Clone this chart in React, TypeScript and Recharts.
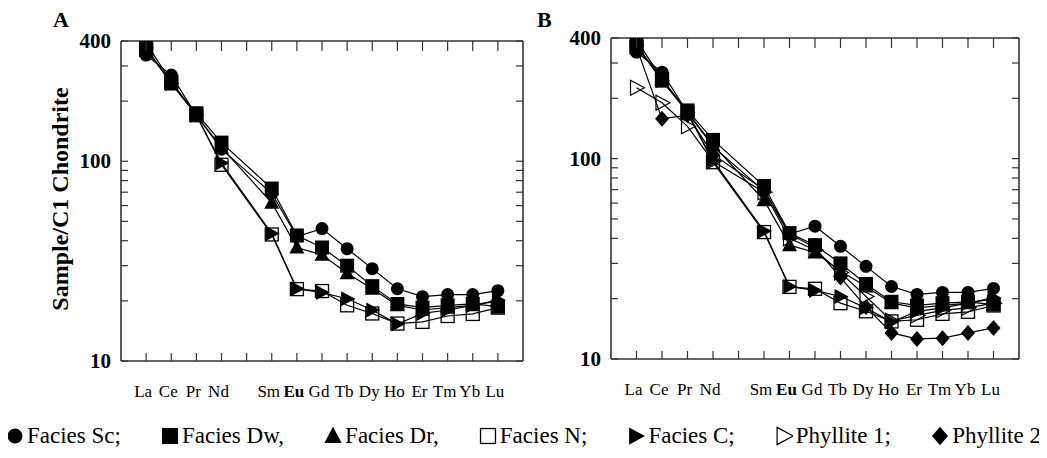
import React from 'react';
import { LineChart, Line, XAxis, YAxis } from 'recharts';

// REE order, Pm (position 5) has no data
const elements = ['La', 'Ce', 'Pr', 'Nd', 'Sm', 'Eu', 'Gd', 'Tb', 'Dy', 'Ho', 'Er', 'Tm', 'Yb', 'Lu'];
const positions = [1, 2, 3, 4, 6, 7, 8, 9, 10, 11, 12, 13, 14, 15];
const xTickPositions = [1, 2, 3, 4, 5, 6, 7, 8, 9, 10, 11, 12, 13, 14, 15];
const xTickLabels = ['La', 'Ce', 'Pr', 'Nd', '', 'Sm', 'Eu', 'Gd', 'Tb', 'Dy', 'Ho', 'Er', 'Tm', 'Yb', 'Lu'];
const yTicks = [10, 20, 30, 40, 50, 60, 70, 80, 90, 100, 200, 300, 400];
const yLabelled = [10, 100, 400];

const faciesSc = [340, 270, 170, 115, 69, 42, 46, 36.5, 29, 23, 21, 21.5, 21.5, 22.5];
const faciesDw = [370, 245, 174, 124, 73, 42.5, 37, 30, 23.7, 19.3, 18.5, 19, 19.3, 18.7];
const faciesDr = [390, 250, 170, 117, 62, 37, 34, 27.5, 23, 19, 18, 18.5, 19, 20];
const faciesN = [360, 250, 170, 96, 43, 22.9, 22.4, 19, 17.3, 15.4, 15.7, 16.8, 17.2, 18.5];
const faciesC = [370, 245, 170, 98, 43.5, 23, 22, 20.5, 18, 15.3, 17.3, 18, 19, 20.2];
const phyllite1 = [226, 190, 145, 97, 68, 40, 35, 27, 20.5, 15.5, 16.5, 17.5, 18, 19];
const phyllite2 = [360, 158, 165, 105, 70, 42, 36, 25.5, 18.2, 13.5, 12.6, 12.7, 13.5, 14.3];

const seriesA = [
  { key: 'sc', name: 'Facies Sc;', shape: 'circle', values: faciesSc },
  { key: 'dw', name: 'Facies Dw,', shape: 'square', values: faciesDw },
  { key: 'dr', name: 'Facies Dr,', shape: 'triangle', values: faciesDr },
  { key: 'n', name: 'Facies N;', shape: 'openSquare', values: faciesN },
  { key: 'c', name: 'Facies C;', shape: 'right', values: faciesC },
];
const seriesB = [
  ...seriesA,
  { key: 'p1', name: 'Phyllite 1;', shape: 'openRight', values: phyllite1 },
  { key: 'p2', name: 'Phyllite 2', shape: 'diamond', values: phyllite2 },
];

const rows = elements.map((el, i) => {
  const row: Record<string, any> = { el, pos: positions[i] };
  seriesB.forEach((s) => { row[s.key] = s.values[i]; });
  return row;
});

const FONT = '"Liberation Serif", "Times New Roman", serif';
const FRAME = '#333';

const Marker = ({ shape, cx, cy, s = 1 }: { shape: string; cx: number; cy: number; s?: number }) => {
  if (cx == null || cy == null) return null;
  switch (shape) {
    case 'circle':
      return <circle cx={cx} cy={cy} r={6.5 * s} fill="#000" />;
    case 'square':
      return <rect x={cx - 7 * s} y={cy - 7 * s} width={14 * s} height={14 * s} fill="#000" />;
    case 'openSquare':
      return <rect x={cx - 6.5 * s} y={cy - 6.5 * s} width={13 * s} height={13 * s} fill="none" stroke="#000" strokeWidth={1.3} />;
    case 'triangle':
      return <polygon points={`${cx},${cy - 8 * s} ${cx + 7.5 * s},${cy + 6 * s} ${cx - 7.5 * s},${cy + 6 * s}`} fill="#000" />;
    case 'right':
      return <polygon points={`${cx - 6 * s},${cy - 7.5 * s} ${cx + 8 * s},${cy} ${cx - 6 * s},${cy + 7.5 * s}`} fill="#000" />;
    case 'openRight':
      return <polygon points={`${cx - 6 * s},${cy - 7.5 * s} ${cx + 8 * s},${cy} ${cx - 6 * s},${cy + 7.5 * s}`} fill="none" stroke="#000" strokeWidth={1.2} />;
    case 'diamond':
      return <polygon points={`${cx},${cy - 8 * s} ${cx + 7 * s},${cy} ${cx},${cy + 8 * s} ${cx - 7 * s},${cy}`} fill="#000" />;
    default:
      return null;
  }
};

const BottomTick = (props: any) => {
  const { x, y, index } = props;
  const label = xTickLabels[index] ?? '';
  return (
    <g>
      <line x1={x} x2={x} y1={y} y2={y - 8} stroke={FRAME} strokeWidth={1.2} />
      <text x={x - 3} y={y + 36} textAnchor="middle" fontFamily={FONT} fontSize={17}
        fontWeight={label === 'Eu' ? 'bold' : 'normal'} fill="#000">{label}</text>
    </g>
  );
};
const TopTick = (props: any) => (
  <line x1={props.x} x2={props.x} y1={props.y} y2={props.y + 10} stroke={FRAME} strokeWidth={1.2} />
);
const LeftTick = (props: any) => {
  const { x, y, payload } = props;
  return (
    <g>
      <line x1={x} x2={x + 7} y1={y} y2={y} stroke={FRAME} strokeWidth={1.2} />
      {yLabelled.includes(payload.value) && (
        <text x={x - 10} y={y + 7} textAnchor="end" fontFamily={FONT} fontSize={21} fontWeight="bold" fill="#000">
          {payload.value}
        </text>
      )}
    </g>
  );
};
const RightTick = (props: any) => (
  <line x1={props.x} x2={props.x - 7} y1={props.y} y2={props.y} stroke={FRAME} strokeWidth={1.2} />
);

const axisLine = { stroke: FRAME, strokeWidth: 1.6 };

const Panel = ({ series, width, height, margin }: any) => (
  <LineChart width={width} height={height} data={rows} margin={margin}>
    <XAxis xAxisId="b" dataKey="pos" type="number" domain={[0, 16]} ticks={xTickPositions} interval={0}
      height={1} tickSize={0} tickMargin={0} tickLine={false} tick={BottomTick} axisLine={axisLine} />
    <XAxis xAxisId="t" orientation="top" dataKey="pos" type="number" domain={[0, 16]} ticks={xTickPositions} interval={0}
      height={1} tickSize={0} tickMargin={0} tickLine={false} tick={TopTick} axisLine={axisLine} />
    <YAxis yAxisId="l" type="number" scale="log" domain={[10, 400]} ticks={yTicks} interval={0} allowDataOverflow
      width={1} tickSize={0} tickMargin={0} tickLine={false} tick={LeftTick} axisLine={axisLine} />
    <YAxis yAxisId="r" orientation="right" type="number" scale="log" domain={[10, 400]} ticks={yTicks} interval={0}
      allowDataOverflow width={1} tickSize={0} tickMargin={0} tickLine={false} tick={RightTick} axisLine={axisLine} />
    {series.map((s: any) => (
      <Line key={s.key} xAxisId="b" yAxisId="l" dataKey={s.key} name={s.name} stroke="#000" strokeWidth={1.2}
        isAnimationActive={false}
        dot={(p: any) => <Marker key={`${s.key}-${p.index}`} shape={s.shape} cx={p.cx} cy={p.cy} />}
        activeDot={false} />
    ))}
  </LineChart>
);

export default function App() {
  return (
    <div style={{ position: 'relative', width: 1047, height: 458, margin: -8, background: '#fff', overflow: 'hidden' }}>
      <div style={{ position: 'absolute', left: 0, top: 0 }}>
        <Panel series={seriesA} width={530} height={410} margin={{ top: 40, right: 6, bottom: 48, left: 120 }} />
      </div>
      <div style={{ position: 'absolute', left: 520, top: 0 }}>
        <Panel series={seriesB} width={527} height={410} margin={{ top: 37, right: 27, bottom: 50, left: 90 }} />
      </div>
      <svg width={1047} height={410} style={{ position: 'absolute', left: 0, top: 0, pointerEvents: 'none' }}>
        <text x={53} y={27} fontFamily={FONT} fontSize={22} fontWeight="bold" fill="#000">A</text>
        <text x={537} y={27} fontFamily={FONT} fontSize={22} fontWeight="bold" fill="#000">B</text>
        <text x={0} y={0} transform="translate(68,199) rotate(-90)" textAnchor="middle" fontFamily={FONT}
          fontSize={24} fontWeight="bold" fill="#000">Sample/C1 Chondrite</text>
      </svg>
      <div style={{ position: 'absolute', left: 6, right: 6, top: 421, display: 'flex', justifyContent: 'space-between',
        fontFamily: FONT, fontSize: 23, color: '#000', lineHeight: '30px' }}>
        {seriesB.map((s) => (
          <div key={s.key} style={{ display: 'flex', alignItems: 'center' }}>
            <svg width={18} height={20} style={{ marginRight: 3 }}>
              <Marker shape={s.shape} cx={9} cy={10} s={1.15} />
            </svg>
            <span>{s.name}</span>
          </div>
        ))}
      </div>
    </div>
  );
}
